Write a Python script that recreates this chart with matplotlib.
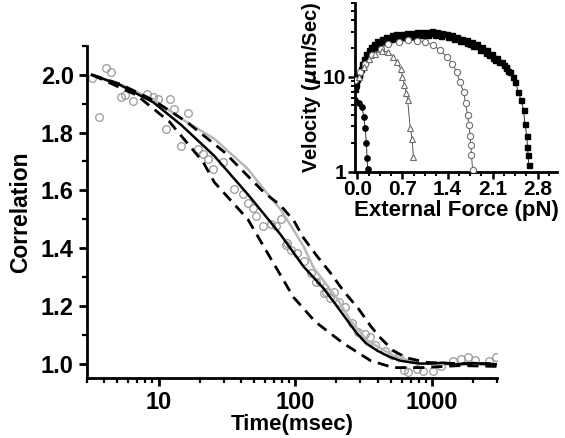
import numpy as np
import matplotlib
matplotlib.use('Agg')
import matplotlib.pyplot as plt
from matplotlib.ticker import MultipleLocator, LogLocator, NullFormatter

plt.rcParams['font.family'] = ['Liberation Sans', 'DejaVu Sans']
plt.rcParams['font.weight'] = 'bold'

# ---- main panel: correlation vs time (msec) ----
t_data = [3.29, 3.70, 4.12, 4.50, 5.32, 5.69, 6.54, 8.18, 9.15, 9.95, 11.4, 12.2, 13.0,
          14.7, 16.45, 19.4, 21.1, 23.0, 25.0, 29.5, 35.9, 41.3, 44.8, 48.8, 51.6, 57.7,
          66.3, 72.1, 78.3, 85.1, 87.6, 92.6, 103.5, 115.6, 129.4, 140.8, 153, 162, 166.5,
          181, 191.3, 208, 233, 260, 290, 325, 354, 385, 455, 510, 570, 620, 670, 775,
          865, 1020, 1170, 1420, 1640, 1830, 2080, 2630, 2950]
c_data = [1.988, 1.854, 2.025, 2.011, 1.924, 1.929, 1.908, 1.935, 1.924, 1.918, 1.811, 1.916, 1.881,
          1.753, 1.869, 1.743, 1.726, 1.709, 1.674, 1.697, 1.604, 1.586, 1.557, 1.540, 1.511, 1.476,
          1.482, 1.476, 1.499, 1.412, 1.418, 1.394, 1.383, 1.354, 1.313, 1.284, 1.284, 1.243, 1.249,
          1.226, 1.249, 1.214, 1.197, 1.139, 1.109, 1.104, 1.092, 1.063, 1.045, 1.028, 1.022, 0.976,
          0.970, 0.982, 0.973, 0.973, 0.990, 1.010, 1.016, 1.022, 1.013, 1.008, 1.022]

t_fit = [3.26, 5.23, 9.15, 14.7, 25.5, 45, 66, 78, 115, 160, 203, 253, 283, 330, 397, 480,
         585, 700, 815, 1000, 1200, 1500, 2000, 2500, 3000]
c_fit = [2.0, 1.965, 1.905, 1.826, 1.72, 1.586, 1.49, 1.447, 1.336, 1.262, 1.197, 1.135, 1.104,
         1.07, 1.045, 1.025, 1.01, 1.004, 1.0, 1.0, 1.003, 0.997, 1.002, 0.998, 0.998]

t_gray = [3.26, 5.23, 9.15, 14.7, 25.7, 45, 66, 78, 95, 115, 137, 203, 253, 335, 520, 800,
          1500, 3000]
c_gray = [2.0, 1.968, 1.915, 1.848, 1.778, 1.674, 1.575, 1.534, 1.47, 1.406, 1.33, 1.225, 1.15,
          1.08, 1.028, 1.0, 0.996, 0.995]

t_up = [3.26, 5.23, 9.15, 16.0, 30.2, 59, 78, 97.6, 115, 145, 181, 225, 290, 356, 418, 520,
        650, 915, 1500, 3000]
c_up = [2.0, 1.968, 1.912, 1.838, 1.733, 1.593, 1.548, 1.495, 1.435, 1.371, 1.314, 1.252,
        1.19, 1.13, 1.09, 1.045, 1.02, 1.004, 1.0, 1.0]

t_low = [3.26, 3.96, 6.9, 12.0, 21.2, 25.6, 45, 66, 97, 140, 225, 356, 520, 850, 1600, 3000]
c_low = [2.0, 1.982, 1.93, 1.838, 1.698, 1.628, 1.5, 1.365, 1.23, 1.145, 1.07, 1.01, 0.986,
         0.986, 0.993, 0.99]

# ---- inset: velocity vs external force ----
f_sq = [-0.03, -0.02, 0.0, 0.02, 0.05, 0.07, 0.1, 0.13, 0.175, 0.21, 0.25, 0.3, 0.38, 0.45,
        0.54, 0.6, 0.69, 0.77, 0.85, 0.92, 1.0, 1.08, 1.16, 1.23, 1.31, 1.39, 1.47, 1.54,
        1.62, 1.7, 1.78, 1.85, 1.93, 2.01, 2.09, 2.16, 2.24, 2.31, 2.37, 2.42, 2.45, 2.5,
        2.54, 2.58, 2.6, 2.63, 2.64, 2.65, 2.66]
v_sq = [7.5, 8.2, 9.6, 10.8, 12.2, 13.8, 15.6, 17.5, 19.1, 20.8, 22.4, 23.8, 25.3, 26.5,
        27.5, 28.0, 28.6, 29.0, 29.3, 29.5, 29.8, 30.0, 30.3, 29.9, 29.3, 28.5, 27.5, 26.4,
        25.3, 24.3, 23.3, 22.0, 20.7, 19.2, 17.6, 16.0, 14.4, 12.8, 11.3, 10.0, 8.9, 6.9,
        5.7, 4.5, 3.2, 2.4, 1.83, 1.5, 1.18]
f_sq2 = [0.03, 0.08, 0.15, 0.22, 0.3, 0.4, 0.5, 0.6, 0.7, 0.8, 0.9, 1.0, 1.1, 1.2, 1.3,
         1.4, 1.5, 1.6, 1.7, 1.8, 1.9, 2.0, 2.1, 2.2, 2.3]
v_sq2 = [10.5, 13.5, 16.8, 19.5, 21.8, 23.6, 24.8, 25.8, 26.3, 26.8, 27.0, 27.3, 27.6, 27.5,
         27.0, 26.3, 25.2, 23.8, 22.5, 21.0, 19.4, 17.8, 16.0, 14.2, 12.4]
f_sq3 = [0.12, 0.2, 0.27, 0.34, 0.42, 0.55, 0.65, 0.75, 0.85, 0.95, 1.05, 1.15, 1.25, 1.35,
         1.45, 1.55, 1.65, 1.75, 1.84, 1.96, 2.05, 2.14, 2.27, 2.34]
v_sq3 = [14.8, 18.0, 20.5, 22.3, 24.0, 25.6, 26.6, 27.3, 27.8, 28.2, 28.6, 28.8, 28.6, 28.0,
         26.6, 25.6, 24.0, 22.4, 21.0, 19.0, 17.0, 15.2, 13.2, 11.6]

f_oc = [-0.03, 0.046, 0.12, 0.23, 0.36, 0.48, 0.64, 0.79, 0.92, 1.05, 1.18, 1.28, 1.39, 1.47,
        1.54, 1.59, 1.65, 1.68, 1.71, 1.73, 1.75, 1.76, 1.77, 1.79]
v_oc = [9.2, 11.3, 13.8, 16.9, 19.9, 22.4, 23.3, 24.3, 24.0, 23.3, 21.6, 19.1, 16.2, 13.8,
        11.3, 8.9, 6.9, 5.25, 3.95, 3.1, 2.4, 1.9, 1.5, 1.04]

f_tri = [0.02, 0.1, 0.175, 0.28, 0.38, 0.48, 0.56, 0.61, 0.67, 0.70, 0.73, 0.76, 0.78, 0.82,
         0.85, 0.87]
v_tri = [10.0, 12.7, 15.6, 17.6, 18.7, 18.4, 16.2, 14.4, 12.2, 10.0, 8.2, 6.7, 5.7, 2.9,
         2.2, 1.44]

f_fc = [-0.03, 0.02, 0.07, 0.1, 0.12, 0.14, 0.15, 0.16]
v_fc = [5.7, 5.25, 4.8, 3.8, 2.9, 2.0, 1.38, 1.08]

fig = plt.figure(figsize=(5.65, 4.38), dpi=100)
ax = fig.add_axes([0.154, 0.137, 0.726, 0.758])

ax.plot(t_data, c_data, 'o', mfc='none', mec='#999999', ms=5.5, mew=0.9, zorder=2)
ax.plot(t_gray, c_gray, '-', color='#b8b8b8', lw=1.8, zorder=3)
ax.plot(t_up, c_up, '--', color='black', lw=2.0, dashes=(4, 2.5), zorder=3)
ax.plot(t_low, c_low, '--', color='black', lw=2.0, dashes=(4, 2.5), zorder=3)
ax.plot(t_fit, c_fit, '-', color='black', lw=1.8, zorder=4)

ax.set_xscale('log')
ax.set_xlim(3, 3000)
ax.set_ylim(0.95, 2.1)
ax.yaxis.set_minor_locator(MultipleLocator(0.1))
ax.set_yticks([1.0, 1.2, 1.4, 1.6, 1.8, 2.0])
ax.set_yticklabels(['1.0', '1.2', '1.4', '1.6', '1.8', '2.0'])
ax.set_xticks([10, 100, 1000])
ax.set_xticklabels(['10', '100', '1000'])
ax.xaxis.set_minor_locator(LogLocator(base=10, subs=np.arange(2, 10)))
ax.xaxis.set_minor_formatter(NullFormatter())

for s in ['top', 'right']:
    ax.spines[s].set_visible(False)
for s in ['left', 'bottom']:
    ax.spines[s].set_linewidth(2.0)
ax.tick_params(which='major', direction='out', length=6, width=2.0, labelsize=17)
ax.tick_params(which='minor', direction='out', length=3.5, width=1.6)
ax.set_xlabel('Time(msec)', fontsize=16, fontweight='bold', labelpad=0)
ax.set_ylabel('Correlation', fontsize=16.5, fontweight='bold', labelpad=6)

# inset
ins = fig.add_axes([0.628, 0.608, 0.358, 0.385])
ins.plot(f_sq, v_sq, '-', color='#333333', lw=0.7, zorder=1)
ins.plot(f_oc, v_oc, '-', color='#555555', lw=0.7, zorder=1)
ins.plot(f_tri, v_tri, '-', color='#555555', lw=0.7, zorder=1)
ins.plot(f_fc, v_fc, '-', color='#333333', lw=0.7, zorder=1)
ins.plot(f_sq, v_sq, 's', color='black', ms=3.6, zorder=3)
ins.plot(f_sq2, v_sq2, 's', color='black', ms=3.6, zorder=3)
ins.plot(f_sq3, v_sq3, 's', color='black', ms=3.6, zorder=3)
ins.plot(f_oc, v_oc, 'o', mfc='white', mec='#6e6e6e', ms=4.5, mew=0.8, zorder=4)
ins.plot(f_tri, v_tri, '^', mfc='white', mec='#6e6e6e', ms=4.8, mew=0.8, zorder=4)
ins.plot(f_fc, v_fc, 'o', color='black', ms=3.8, zorder=4)

ins.set_yscale('log')
ins.set_ylim(1, 60)
ins.set_xlim(-0.04, 3.1)
ins.set_xticks([0.0, 0.7, 1.4, 2.1, 2.8])
ins.set_xticklabels(['0.0', '0.7', '1.4', '2.1', '2.8'])
ins.xaxis.set_minor_locator(MultipleLocator(0.175))
ins.set_yticks([1, 10])
ins.set_yticklabels(['1', '10'])
ins.yaxis.set_minor_locator(LogLocator(base=10, subs=np.arange(2, 10)))
ins.yaxis.set_minor_formatter(NullFormatter())
ins.patch.set_alpha(0)
for s in ['top', 'right']:
    ins.spines[s].set_visible(False)
for s in ['left', 'bottom']:
    ins.spines[s].set_linewidth(2.0)
ins.tick_params(which='major', direction='out', length=5, width=1.8, labelsize=15, pad=1)
ins.tick_params(which='minor', direction='out', length=3, width=1.4)
ins.set_xlabel('External Force (pN)', fontsize=16, fontweight='bold', labelpad=1)
ins.set_ylabel(r'Velocity ($\mu$m/Sec)', fontsize=14.5, fontweight='bold', labelpad=0)

fig.savefig('out.png', dpi=100)
